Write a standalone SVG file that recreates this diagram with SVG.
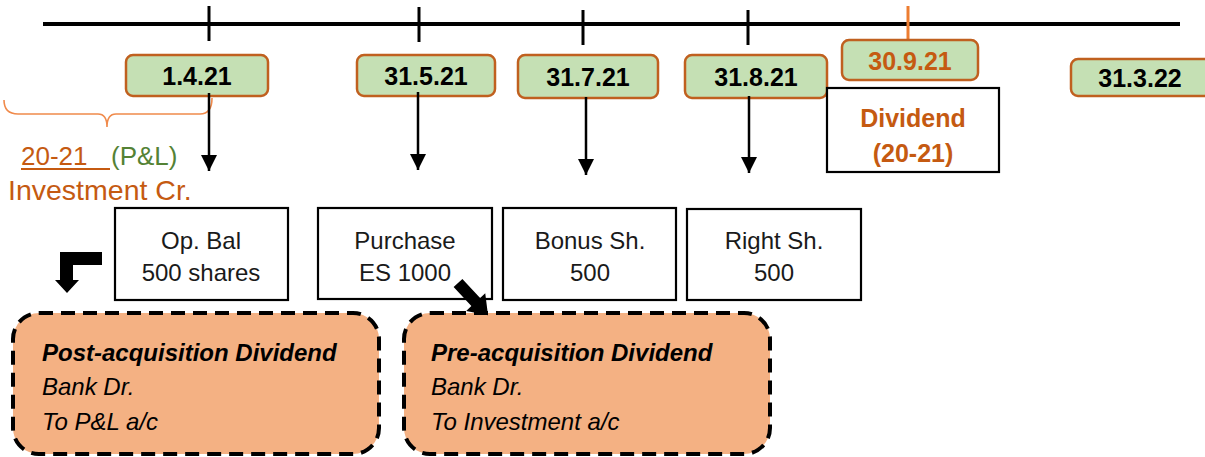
<svg xmlns="http://www.w3.org/2000/svg" width="1205" height="457" viewBox="0 0 1205 457">
<style>
.date rect{fill:#c5e0b4;stroke:#c0601f;stroke-width:2.5}
.date text{font-family:"Liberation Sans",Arial,sans-serif;font-weight:bold;font-size:25px;text-anchor:middle;fill:#000}
.ev rect{fill:#fff;stroke:#000;stroke-width:2.2}
.ev text{font-family:"Liberation Sans",Arial,sans-serif;font-size:24px;text-anchor:middle;fill:#1a1a1a}
.dash rect{fill:#f4b183;stroke:#000;stroke-width:4;stroke-dasharray:14 8}
.dash text{font-family:"Liberation Sans",Arial,sans-serif;font-style:italic;font-size:24px;fill:#000}
.tick{stroke:#000;stroke-width:3}
.arr{stroke:#000;stroke-width:2.5;fill:none;marker-end:url(#ah)}
</style>
<defs>
<marker id="ah" viewBox="0 0 10 10" refX="10" refY="5" markerWidth="6.5" markerHeight="6.5" markerUnits="strokeWidth" orient="auto">
<path d="M0,0 L10,5 L0,10 z" fill="#000"/>
</marker>
</defs>
<g id="timeline">
<line x1="43" y1="24" x2="1180" y2="24" stroke="#000" stroke-width="4"/>
<line class="tick" x1="209" y1="6" x2="209" y2="41"/>
<line class="tick" x1="419" y1="7" x2="419" y2="42"/>
<line class="tick" x1="583" y1="10" x2="583" y2="45"/>
<line class="tick" x1="748" y1="10" x2="748" y2="45"/>
<line x1="908" y1="6" x2="908" y2="40" stroke="#ed7d31" stroke-width="3"/>
</g>
<g id="d1" class="date"><rect x="126" y="55" width="142" height="41" rx="7"/><text x="197" y="85">1.4.21</text></g>
<g id="d2" class="date"><rect x="357" y="55" width="138" height="41" rx="7"/><text x="426" y="85">31.5.21</text></g>
<g id="d3" class="date"><rect x="518" y="55" width="140" height="43" rx="7"/><text x="588" y="86">31.7.21</text></g>
<g id="d4" class="date"><rect x="685" y="55" width="142" height="43" rx="7"/><text x="756" y="86">31.8.21</text></g>
<g id="d5" class="date"><rect x="842" y="40" width="136" height="40" rx="7"/><text x="910" y="70" style="fill:#c55a11">30.9.21</text></g>
<g id="d6" class="date"><rect x="1071" y="59" width="150" height="37" rx="7"/><text x="1140" y="87">31.3.22</text></g>
<g id="dividend" class="ev"><rect x="827" y="88" width="172" height="84"/>
<text x="913" y="127" style="font-weight:bold;font-size:25px;fill:#c55a11">Dividend</text>
<text x="913" y="162" style="font-weight:bold;font-size:25px;fill:#c55a11">(20-21)</text></g>
<g id="brace">
<path d="M4,100 Q4,114 18,114 L98,114 Q107,114 107,127 Q107,114 116,114 L200,114 Q212,114 212,98" fill="none" stroke="#f08a4b" stroke-width="1.6"/>
</g>
<g id="note" font-family="Liberation Sans, Arial, sans-serif">
<text x="21" y="165" font-size="26" fill="#c55a11">20-21</text>
<line x1="21" y1="169" x2="110" y2="169" stroke="#c55a11" stroke-width="1.8"/>
<text x="111" y="165" font-size="26" fill="#548235">(P&amp;L)</text>
<text x="8" y="200" font-size="28.5" fill="#c55a11">Investment Cr.</text>
</g>
<g id="e1" class="ev"><rect x="115" y="208" width="173" height="92"/><text x="201" y="249">Op. Bal</text><text x="201" y="281">500 shares</text></g>
<g id="e2" class="ev"><rect x="318" y="208" width="174" height="91"/><text x="405" y="249">Purchase</text><text x="405" y="281">ES 1000</text></g>
<g id="e3" class="ev"><rect x="503" y="208" width="173" height="92"/><text x="590" y="249">Bonus Sh.</text><text x="590" y="281">500</text></g>
<g id="e4" class="ev"><rect x="687" y="209" width="174" height="91"/><text x="774" y="249">Right Sh.</text><text x="774" y="281">500</text></g>
<g id="post" class="dash"><rect x="13" y="313" width="366" height="141" rx="26"/>
<text x="42" y="361" font-weight="bold">Post-acquisition Dividend</text>
<text x="42" y="395">Bank Dr.</text>
<text x="42" y="430">To P&amp;L a/c</text></g>
<g id="pre" class="dash"><rect x="404" y="313" width="366" height="141" rx="26"/>
<text x="431" y="361" font-weight="bold">Pre-acquisition Dividend</text>
<text x="431" y="395">Bank Dr.</text>
<text x="431" y="430">To Investment a/c</text></g>
<g id="connectors">
<line class="arr" x1="209" y1="93" x2="209" y2="171"/>
<line class="arr" x1="418" y1="92" x2="418" y2="170"/>
<line class="arr" x1="586" y1="97" x2="586" y2="175"/>
<line class="arr" x1="749" y1="96" x2="749" y2="173"/>
<polygon points="102,252 60,252 60,280 55,280 67,293 79,280 73,280 73,265 102,265" fill="#000"/>
<polygon transform="translate(458,283) rotate(47)" points="0,-6 26,-6 26,-13 44,0 26,13 26,6 0,6" fill="#000"/>
</g>
</svg>
